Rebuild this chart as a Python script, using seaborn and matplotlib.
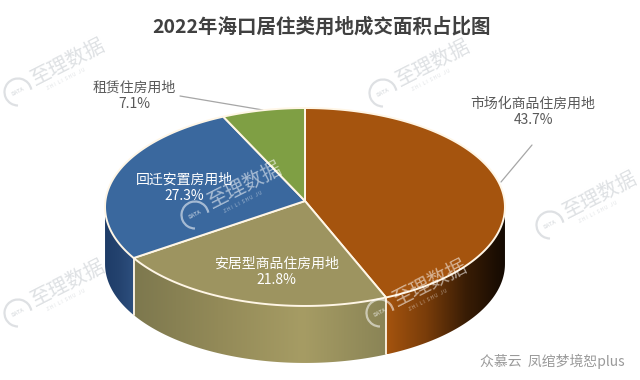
import numpy as np
import seaborn as sns
from matplotlib import pyplot as plt
from matplotlib.colors import LinearSegmentedColormap
from matplotlib.patches import Arc, Polygon

# 2022 Haikou residential land share, fake 3D pie

names = ['市场化商品住房用地', '安居型商品住房用地', '回迁安置房用地', '租赁住房用地']
shares = [43.7, 21.8, 27.3, 7.1]
top_colors = ['#a5540e', '#9d9460', '#3a689e', '#7f9f44']
wall_colors = [
    ['#a5540e', '#7a3d0a', '#3a1d05', '#140a02'],
    ['#7d784e', '#938a58', '#a69c64', '#8a8456'],
    ['#1e3c68', '#24436f', '#2d4f7e'],
    None,
]
title = '2022年海口居住类用地成交面积占比图'
footer = '众慕云  凤绾梦境恕plus'
brand = '至理数据'
brand_small = 'Z H I   L I   S H U   J U'

sns.set_theme(style='white')
plt.rcParams['font.family'] = ['Noto Sans CJK SC', 'DejaVu Sans']

W, H = 640, 380
cx, cy = 305, 201  # where the slices meet
k = 0.0606  # perspective, back of the disc is a bit smaller
depth = 57
rim = '#fff6e6'


def project(theta):
    # theta in degrees, clockwise from 12 o'clock, on the top face
    t = np.radians(theta)
    u, v = np.sin(t), np.cos(t)
    d = 1 + k * v
    return cx + 199.6 * u / d, cy - 98.6 * v / d


fig = plt.figure(figsize=(W / 100, H / 100), dpi=100)
ax = fig.add_axes([0, 0, 1, 1])
ax.set_xlim(0, W)
ax.set_ylim(H, 0)
ax.axis('off')

edges = np.cumsum([0] + shares) / np.sum(shares) * 360
side_l, side_r = 93.5, 266.5  # silhouette of the disc, the wall shows between

for i in range(len(shares)):
    # top face
    x, y = project(np.linspace(edges[i], edges[i + 1], 120))
    ax.fill(np.r_[cx, x], np.r_[cy, y], color=top_colors[i], ec=rim, lw=1.4, zorder=5, joinstyle='round')

    # wall
    lo, hi = max(edges[i], side_l), min(edges[i + 1], side_r)
    if hi <= lo:
        continue
    x, y = project(np.linspace(lo, hi, 120))
    pts = np.r_[np.c_[x, y], np.c_[x[::-1], y[::-1] + depth]]
    poly = Polygon(pts, closed=True, fc='none', ec='none')
    ax.add_patch(poly)
    cmap = LinearSegmentedColormap.from_list(f'wall{i}', wall_colors[i])
    grad = np.linspace(0, 1, 256).reshape(1, -1)
    im = ax.imshow(grad, cmap=cmap, aspect='auto', zorder=2,
                   extent=(x.min(), x.max(), y.max() + depth, y.min()))
    im.set_clip_path(poly)
    # seam down the slice edge
    if edges[i] > side_l:
        ax.plot([x[0], x[0]], [y[0], y[0] + depth], color=rim, lw=1.3, zorder=3)

ax.set_xlim(0, W)
ax.set_ylim(H, 0)

ax.text(322, 27, title, ha='center', va='center', fontsize=14, fontweight='bold', color='#404040')

grey = '#595959'
label_kw = dict(ha='center', va='center', fontsize=10, linespacing=1.25, zorder=7)
ax.text(134, 96, f'{names[3]}\n{shares[3]}%', color=grey, **label_kw)
ax.text(533, 112, f'{names[0]}\n{shares[0]}%', color=grey, **label_kw)
ax.text(276, 272, f'{names[1]}\n{shares[1]}%', color='white', **label_kw)
ax.text(184, 188, f'{names[2]}\n{shares[2]}%', color='white', **label_kw)

ax.plot([180, 263], [96, 110], color='#a6a6a6', lw=0.9)
ax.plot([532, 501], [145, 182], color='#a6a6a6', lw=0.9)


def watermark(x, y, color, alpha):
    # logo arc plus rotated brand name, x/y is the logo centre
    ax.add_patch(Arc((x, y), 27, 27, angle=30, theta1=60, theta2=320, color=color, alpha=alpha, lw=1.6, zorder=8))
    txt = dict(ha='center', va='center', rotation=27, color=color, alpha=alpha, zorder=8, clip_on=True)
    ax.text(x, y, 'DATA', fontsize=3.8, fontweight='bold', **txt)
    ax.text(x + 50, y - 30, brand, fontsize=14.5, **txt)
    ax.text(x + 48, y - 13, brand_small, fontsize=3.4, **txt)


for mx, my in [(18, 92), (383, 93), (550, 225), (18, 313)]:
    watermark(mx, my, '#d0d4d8', 0.7)
for mx, my in [(195, 215), (380, 313)]:
    watermark(mx, my, 'white', 0.55)

ax.text(552, 361, footer, ha='center', va='center', fontsize=10, color='#9a9a9a')

fig.savefig('out.png', dpi=100)
